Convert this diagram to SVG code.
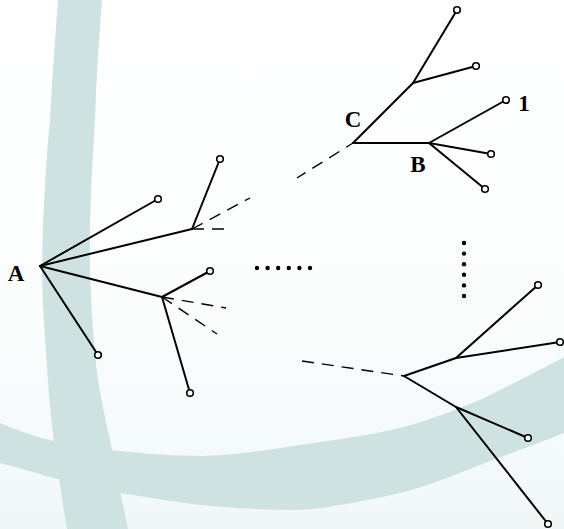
<svg xmlns="http://www.w3.org/2000/svg" width="564" height="529" viewBox="0 0 564 529">
  <defs>
    <style>
      .edge { stroke: #000; stroke-width: 2; fill: none; stroke-linecap: round; }
      .dash { stroke: #000; stroke-width: 1.4; fill: none; stroke-dasharray: 12 8; }
      .leaf { fill: #fff; stroke: #000; stroke-width: 1.6; }
      .dot { fill: #000; }
      .lbl { font-family: "Liberation Serif", "Times New Roman", serif; font-weight: bold; font-size: 23px; fill: #000; text-anchor: middle; }
      .band { fill: #cfe2e2; }
    </style>
    <linearGradient id="bg" x1="0" y1="0" x2="0" y2="1">
      <stop offset="0" stop-color="#ffffff"/>
      <stop offset="0.6" stop-color="#fbfdfd"/>
      <stop offset="1" stop-color="#f1f7f7"/>
    </linearGradient>
  </defs>

  <g id="background">
    <rect x="0" y="0" width="564" height="529" fill="url(#bg)"/>
    <path class="band" d="M58,0 L102,0 C99,40 96,80 95,120 C92,170 89,220 90,264 C91,310 94,350 98,380 C103,410 108,430 112,450 C118,480 123,505 128,529 L67,529 C63,505 59,480 55,450 C52,425 49,400 48,380 C45,340 42,300 42,264 C43,210 46,160 50,120 C52,80 55,40 58,0 Z"/>
    <path class="band" d="M0,423 C17,430 33,436 50,440 C70,445 90,448 110,450 C140,453 170,456 200,456 C235,455 270,450 300,445 C335,440 370,435 400,428 C430,420 455,410 480,400 C510,385 540,370 564,357 L564,433 C535,445 505,455 480,465 C455,475 425,487 400,493 C365,501 330,508 300,510 C265,510 230,508 200,505 C170,501 145,497 120,493 C95,488 70,482 50,477 C33,472 15,467 0,463 Z"/>
  </g>

  <g id="connectors">
    <!-- from A -->
    <line class="edge" x1="40" y1="266" x2="158" y2="199"/>
    <line class="edge" x1="40" y1="266" x2="192" y2="229"/>
    <line class="edge" x1="40" y1="266" x2="162" y2="297"/>
    <line class="edge" x1="40" y1="266" x2="98" y2="355"/>
    <!-- from J1 -->
    <line class="edge" x1="192" y1="229" x2="220" y2="159"/>
    <line class="dash" x1="192" y1="229" x2="250" y2="198"/>
    <line class="dash" x1="192" y1="229" x2="232" y2="229"/>
    <!-- from J2 -->
    <line class="edge" x1="162" y1="297" x2="210" y2="271"/>
    <line class="edge" x1="162" y1="297" x2="190" y2="393"/>
    <line class="dash" x1="162" y1="297" x2="226" y2="308"/>
    <line class="dash" x1="162" y1="297" x2="217" y2="334"/>
    <!-- upper right tree -->
    <line class="dash" x1="297" y1="178" x2="353" y2="143" stroke-dashoffset="2"/>
    <line class="edge" x1="353" y1="143" x2="413" y2="83"/>
    <line class="edge" x1="413" y1="83" x2="457" y2="10"/>
    <line class="edge" x1="413" y1="83" x2="476" y2="66"/>
    <line class="edge" x1="353" y1="143" x2="429" y2="143"/>
    <line class="edge" x1="429" y1="143" x2="506" y2="100"/>
    <line class="edge" x1="429" y1="143" x2="491" y2="154"/>
    <line class="edge" x1="429" y1="143" x2="485" y2="189"/>
    <!-- lower right tree -->
    <line class="dash" x1="302" y1="361" x2="404" y2="376" stroke-dasharray="1 8 12 8 12 8 12 8 12 8"/>
    <line class="edge" x1="404" y1="376" x2="456" y2="358"/>
    <line class="edge" x1="456" y1="358" x2="538" y2="285"/>
    <line class="edge" x1="456" y1="358" x2="560" y2="342"/>
    <line class="edge" x1="404" y1="376" x2="456" y2="407"/>
    <line class="edge" x1="456" y1="407" x2="528" y2="438"/>
    <line class="edge" x1="456" y1="407" x2="548" y2="524"/>
  </g>

  <g id="node-A"><text class="lbl" x="16" y="281">A</text></g>
  <g id="node-C"><text class="lbl" x="353" y="127">C</text></g>
  <g id="node-B"><text class="lbl" x="418" y="172">B</text></g>

  <g id="leaf-a1"><circle class="leaf" cx="158" cy="199" r="3.3"/></g>
  <g id="leaf-a2"><circle class="leaf" cx="98" cy="355" r="3.3"/></g>
  <g id="leaf-j1"><circle class="leaf" cx="220" cy="159" r="3.3"/></g>
  <g id="leaf-j2a"><circle class="leaf" cx="210" cy="271" r="3.3"/></g>
  <g id="leaf-j2b"><circle class="leaf" cx="190" cy="393" r="3.3"/></g>
  <g id="leaf-d1"><circle class="leaf" cx="457" cy="10" r="3.3"/></g>
  <g id="leaf-d2"><circle class="leaf" cx="476" cy="66" r="3.3"/></g>
  <g id="leaf-1"><circle class="leaf" cx="506" cy="100" r="3.3"/><text class="lbl" x="524" y="111">1</text></g>
  <g id="leaf-b2"><circle class="leaf" cx="491" cy="154" r="3.3"/></g>
  <g id="leaf-b3"><circle class="leaf" cx="485" cy="189" r="3.3"/></g>
  <g id="leaf-f1"><circle class="leaf" cx="538" cy="285" r="3.3"/></g>
  <g id="leaf-f2"><circle class="leaf" cx="560" cy="342" r="3.3"/></g>
  <g id="leaf-g1"><circle class="leaf" cx="528" cy="438" r="3.3"/></g>
  <g id="leaf-g2"><circle class="leaf" cx="548" cy="524" r="3.3"/></g>

  <g id="ellipsis-h">
    <circle class="dot" cx="257" cy="268" r="2.2"/>
    <circle class="dot" cx="267.6" cy="268" r="2.2"/>
    <circle class="dot" cx="278.2" cy="268" r="2.2"/>
    <circle class="dot" cx="288.8" cy="268" r="2.2"/>
    <circle class="dot" cx="299.4" cy="268" r="2.2"/>
    <circle class="dot" cx="310" cy="268" r="2.2"/>
  </g>
  <g id="ellipsis-v">
    <circle class="dot" cx="464" cy="243" r="2.2"/>
    <circle class="dot" cx="464" cy="253.6" r="2.2"/>
    <circle class="dot" cx="464" cy="264.2" r="2.2"/>
    <circle class="dot" cx="464" cy="274.8" r="2.2"/>
    <circle class="dot" cx="464" cy="285.4" r="2.2"/>
    <circle class="dot" cx="464" cy="296" r="2.2"/>
  </g>
</svg>
